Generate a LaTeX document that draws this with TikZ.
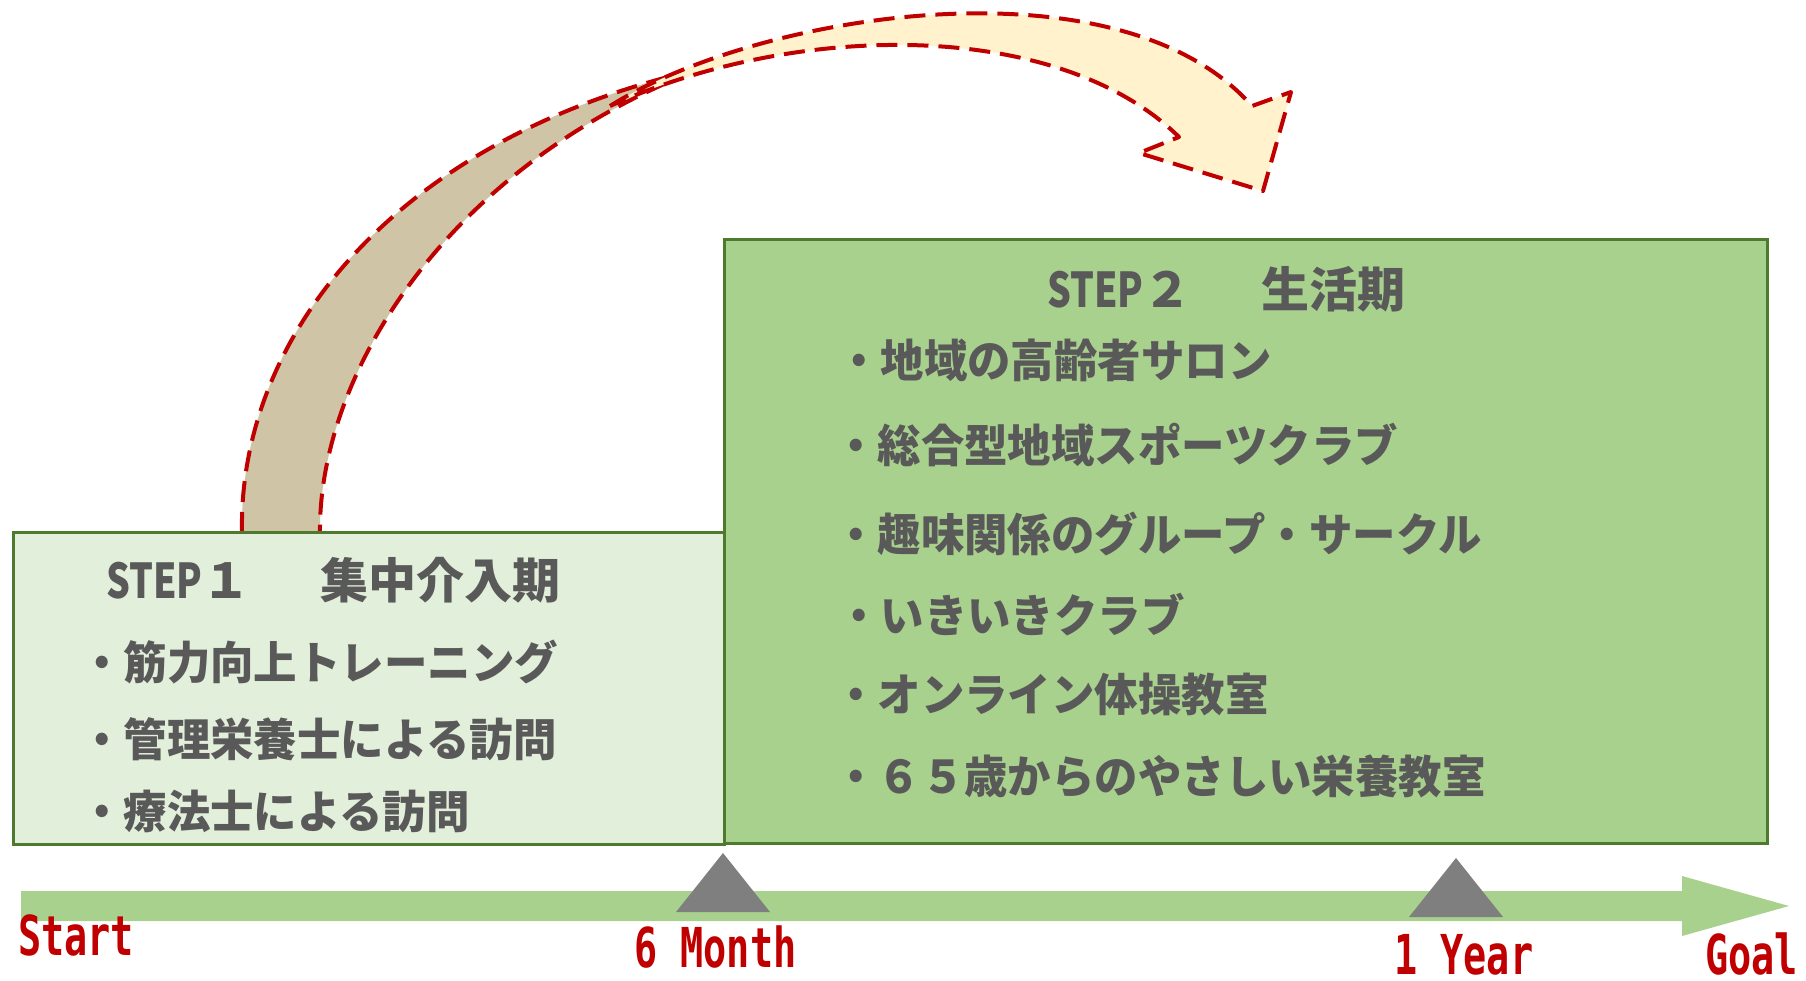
\documentclass[tikz,border=0pt]{standalone}
\usepackage{fontspec}
\newfontfamily\jp{Noto Sans CJK JP}[FakeStretch=0.965]
\newfontfamily\jpt{Noto Sans CJK JP}
\newfontfamily\lbl{DejaVu Sans Mono}
\definecolor{txtgray}{HTML}{595959}
\definecolor{boxborder}{HTML}{4E7A2E}
\definecolor{lightgreen}{HTML}{E2EFDA}
\definecolor{midgreen}{HTML}{A9D18E}
\definecolor{darkred}{HTML}{C00000}
\definecolor{tanfill}{HTML}{CFC4A6}
\definecolor{creamfill}{HTML}{FFF2CC}
\definecolor{trigray}{HTML}{7F7F7F}
\tikzset{
  band/.style={draw=darkred, line width=4pt, dash pattern=on 21pt off 10pt, line join=round},
  stepbox/.style={draw=boxborder, line width=3pt, anchor=north west, inner sep=0pt},
  item/.style={anchor=west, inner sep=0pt, text=txtgray, font=\jp\bfseries\fontsize{45}{50}\selectfont},
  ttl/.style={anchor=west, inner sep=0pt, text=txtgray, font=\jpt\bfseries\fontsize{48}{52}\selectfont},
  tlabel/.style={anchor=base west, inner sep=0pt, text=darkred, font=\lbl\bfseries\fontsize{55}{60}\selectfont},
  marker/.style={fill=trigray},
}
\begin{document}
\begin{tikzpicture}[x=1pt,y=-1pt]
\useasboundingbox (0,0) rectangle (1806,980);

% curved arrow (twisted ribbon)
\coordinate (bl) at (242,533);
\coordinate (br) at (320,533);
\coordinate (tw) at (700,69);
\coordinate (cq) at (610,106);
\coordinate (oj) at (1252,106);
\coordinate (ob) at (1291,92);
\coordinate (tip) at (1263,191);
\coordinate (ib) at (1139,153);
\coordinate (ij) at (1179,137);
\path[band, fill=tanfill] (bl) .. controls (238,340) and (390,140) .. (tw) .. controls (440,170) and (318,380) .. (br);
\path[band, fill=creamfill] (cq) .. controls (760,12) and (1120,-44) .. (oj) -- (ob) -- (tip) -- (ib) -- (ij) .. controls (1060,20) and (800,20) .. (cq) -- cycle;

% boxes
\node[stepbox, fill=lightgreen, minimum width=711pt, minimum height=312pt] (s1) at (12,531) {};
\node[stepbox, fill=midgreen, minimum width=1043pt, minimum height=604pt] (s2) at (723,238) {};

% step 1 text
\node[ttl] (t1) at (106,580) {\scalebox{0.78}[1]{STEP}１\hspace{70pt}集中介入期};
\node[item] (a1) at (80,662) {・筋力向上トレーニング};
\node[item] (a2) at (80,739) {・管理栄養士による訪問};
\node[item] (a3) at (80,811) {・療法士による訪問};

% step 2 text
\node[ttl] (t2) at (1047,289) {\scalebox{0.78}[1]{STEP}２\hspace{70pt}生活期};
\node[item] (b1) at (837,360) {・地域の高齢者サロン};
\node[item] (b2) at (834,445) {・総合型地域スポーツクラブ};
\node[item] (b3) at (834,534) {・趣味関係のグループ・サークル};
\node[item] (b4) at (837,615) {・いきいきクラブ};
\node[item] (b5) at (834,694) {・オンライン体操教室};
\node[item] (b6) at (834,776) {・６５歳からのやさしい栄養教室};

% timeline
\path[fill=midgreen] (21,891) -- (1682,891) -- (1682,876) -- (1789,906) -- (1682,936) -- (1682,921) -- (21,921) -- cycle;
\path[marker] (723,853) -- (770,912) -- (676,912) -- cycle;
\path[marker] (1456,858) -- (1503,917) -- (1409,917) -- cycle;

\node[tlabel] (lstart) at (18,955) {\scalebox{0.7}[1]{Start}};
\node[tlabel] (l6m) at (634,967) {\scalebox{0.7}[1]{6 Month}};
\node[tlabel] (l1y) at (1394,974) {\scalebox{0.7}[1]{1 Year}};
\node[tlabel] (lgoal) at (1705,974) {\scalebox{0.7}[1]{Goal}};
\end{tikzpicture}
\end{document}
